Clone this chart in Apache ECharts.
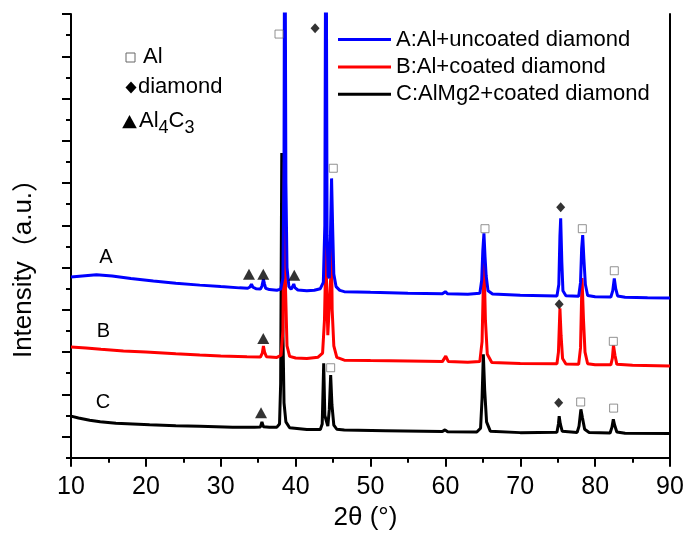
<!DOCTYPE html>
<html>
<head>
<meta charset="utf-8">
<script src="https://cdn.jsdelivr.net/npm/echarts@6/dist/echarts.min.js"></script>
<style>
  html, body { margin: 0; padding: 0; background: #ffffff; }
  #chart { width: 688px; height: 538px; }
</style>
</head>
<body>
<div id="chart"></div>
<script>
// XRD patterns (2θ in degrees, stacked intensity in a.u.)
const seriesNames = ['A:Al+uncoated diamond', 'B:Al+coated diamond', 'C:AlMg2+coated diamond'];
const seriesColors = ['#0000ff', '#ff0000', '#000000'];
const curveLabels = ['A', 'B', 'C'];

const patternA = [
  [10, 8.55], [11.5, 8.60], [13.4, 8.66], [15.5, 8.60], [18, 8.48], [21, 8.36], [24, 8.26], [27.2, 8.17],
  [30, 8.10], [32.5, 8.04], [33.6, 8.02], [33.9, 8.08], [34.1, 8.21], [34.3, 8.07], [34.7, 8.00],
  [35.3, 7.99], [35.5, 8.12], [35.7, 8.44], [35.85, 8.22], [36, 8.02], [36.5, 7.96], [37.5, 7.93],
  [38, 7.98], [38.3, 8.5], [38.45, 14], [38.55, 30], [38.7, 13], [38.85, 9.0], [39.1, 8.1], [39.4, 7.98],
  [39.6, 8.10], [39.75, 8.22], [39.9, 8.05], [40.3, 7.94], [41.5, 7.90], [42.5, 7.93], [43.3, 8.0],
  [43.7, 8.3], [43.9, 11], [44.05, 30], [44.2, 10.5], [44.35, 8.6], [44.5, 8.5], [44.65, 10.5], [44.8, 13.22],
  [44.95, 10.8], [45.1, 8.7], [45.4, 8.1], [45.9, 7.92], [46.5, 7.86], [50, 7.83], [55, 7.79],
  [59.6, 7.76], [60, 7.86], [60.3, 7.76], [63, 7.74], [64.6, 7.78], [64.85, 8.4], [65, 9.8],
  [65.15, 10.62], [65.3, 9.5], [65.45, 8.6], [65.7, 7.9], [66.3, 7.75], [70, 7.69], [74.9, 7.66],
  [75.15, 8.2], [75.3, 10.5], [75.4, 11.33], [75.55, 9.3], [75.7, 7.9], [76.1, 7.67], [77.8, 7.64],
  [78.05, 8.3], [78.2, 9.9], [78.34, 10.54], [78.5, 9.4], [78.7, 8.2], [79, 7.68], [80, 7.62],
  [82.1, 7.61], [82.35, 7.9], [82.56, 8.49], [82.75, 8.0], [83, 7.66], [84, 7.60], [87, 7.57], [90, 7.56]
];

const patternB = [
  [10, 5.24], [12, 5.20], [14, 5.13], [17, 5.05], [20, 5.00], [24, 4.92], [27.2, 4.86], [30, 4.82],
  [33.5, 4.78], [35.3, 4.77], [35.55, 4.95], [35.7, 5.29], [35.85, 5.0], [36.1, 4.78], [37.5, 4.75],
  [38.05, 4.85], [38.3, 6], [38.5, 14], [38.65, 8], [38.85, 5.3], [39.2, 4.8], [40, 4.72], [41.5, 4.70],
  [43, 4.76], [43.6, 4.95], [43.85, 6.5], [44.0, 9], [44.05, 10.5], [44.12, 8.5], [44.3, 5.8],
  [44.5, 5.8], [44.68, 8.5], [44.78, 10.5], [44.88, 7], [45.1, 5.3], [45.5, 4.75], [46.5, 4.62],
  [50, 4.60], [55, 4.58], [59.6, 4.55],
  [60.05, 4.81], [60.4, 4.55], [63, 4.52], [64.6, 4.55], [64.9, 5.5], [65.15, 9.5], [65.35, 6.5],
  [65.6, 4.9], [66.2, 4.51], [70, 4.46], [74.9, 4.45], [75.1, 5.0], [75.3, 7.07], [75.45, 5.8],
  [75.65, 4.7], [76.1, 4.44], [77.8, 4.42], [78.05, 5.2], [78.25, 8.5], [78.45, 6.5], [78.65, 5.0],
  [79, 4.45], [80, 4.40], [82.1, 4.40], [82.3, 4.7], [82.45, 5.33], [82.65, 4.85], [82.9, 4.42],
  [85, 4.38], [90, 4.34]
];

const patternC = [
  [10, 1.97], [11, 1.88], [12.5, 1.78], [13.9, 1.70], [16, 1.63], [20.5, 1.56], [24, 1.52], [27.2, 1.49],
  [31.6, 1.44], [34.5, 1.44], [35.3, 1.46], [35.5, 1.70], [35.7, 1.47], [36.5, 1.44], [37.5, 1.45],
  [37.85, 1.6], [38.0, 3.5], [38.15, 14.42], [38.3, 6], [38.45, 2.6], [38.7, 1.7], [39.2, 1.42],
  [41.5, 1.34], [43.3, 1.34], [43.55, 1.6], [43.75, 4.47], [43.9, 2.0], [44.3, 1.5], [44.5, 2.3],
  [44.68, 3.91], [44.85, 2.5], [45.1, 1.55], [45.5, 1.35], [46.5, 1.31], [52, 1.28], [59.6, 1.24],
  [59.95, 1.32], [60.3, 1.23], [64.2, 1.22], [64.7, 1.4], [64.9, 2.8], [65.07, 4.9], [65.25, 3.2],
  [65.5, 1.7], [66, 1.26], [70, 1.19], [74.9, 1.21], [75.1, 1.6], [75.2, 1.97], [75.35, 1.6],
  [75.6, 1.26], [77.6, 1.20], [77.85, 1.5], [78.1, 2.29], [78.3, 1.9], [78.6, 1.35], [79.2, 1.20],
  [82, 1.17], [82.25, 1.45], [82.43, 1.82], [82.6, 1.55], [82.9, 1.22], [84, 1.16], [90, 1.15]
];

// Phase markers placed above the indexed reflections
const alPeaks = [
  [37.78, 20.05], [45.03, 13.7], [65.29, 10.84], [78.29, 10.84], [82.56, 8.85],
  [82.43, 5.51], [44.68, 4.26], [78.07, 2.64], [82.47, 2.35]
];
const diamondPeaks = [[42.6, 20.32], [75.4, 11.85], [75.2, 7.27], [75.13, 2.6]];
const carbidePeaks = [[33.77, 8.69], [35.68, 8.69], [39.82, 8.64], [35.68, 5.65], [35.38, 2.13]];

// Axis settings
const xTicks = [10, 20, 30, 40, 50, 60, 70, 80, 90];
const yMajorTicks = [1, 3, 5, 7, 9, 11, 13, 15, 17, 19, 21];
const yMinorTicks = [0, 2, 4, 6, 8, 10, 12, 14, 16, 18, 20];

const FONT = '"Liberation Sans", Arial, "Noto Sans CJK SC", sans-serif';
const CJK_FONT = '"Noto Sans CJK JP", "Noto Sans CJK SC", sans-serif';
const AXIS_LINE = { show: true, lineStyle: { color: '#000', width: 2 } };

const chart = echarts.init(document.getElementById('chart'), null, { renderer: 'canvas' });

const patterns = [patternA, patternB, patternC];
const lineSeries = patterns.map((p, i) => ({
  name: seriesNames[i],
  type: 'line',
  data: p,
  showSymbol: false,
  symbol: 'none',
  color: seriesColors[i],
  lineStyle: { width: 3, color: seriesColors[i] },
  z: 4 - i,
  clip: true,
  silent: true
}));

const markerSeries = [
  {
    name: 'Al', type: 'scatter', data: alPeaks, symbol: 'rect', symbolSize: 8,
    itemStyle: { color: '#fff', borderColor: '#777', borderWidth: 1 }, z: 6, silent: true
  },
  {
    name: 'diamond', type: 'scatter', data: diamondPeaks, symbol: 'diamond', symbolSize: [9, 10],
    itemStyle: { color: '#000' }, z: 6, silent: true
  },
  {
    name: 'Al4C3', type: 'scatter', data: carbidePeaks, symbol: 'triangle', symbolSize: [12, 11],
    itemStyle: { color: '#000' }, z: 6, silent: true
  }
];

const option = {
  animation: false,
  backgroundColor: '#fff',
  grid: { left: 71, right: 18, top: 14, bottom: 76, containLabel: false },
  legend: {
    data: seriesNames,
    orient: 'vertical',
    left: 338,
    top: 28.5,
    padding: 0,
    itemWidth: 53,
    itemHeight: 3,
    itemGap: 5.4,
    icon: 'rect',
    selectedMode: false,
    textStyle: { fontSize: 22, fontFamily: FONT, color: '#000', lineHeight: 22 }
  },
  xAxis: [
    {
      type: 'value', min: xTicks[0], max: xTicks[xTicks.length - 1], interval: 10,
      position: 'bottom',
      axisLine: AXIS_LINE,
      axisTick: { show: true, inside: false, length: 9, lineStyle: { color: '#000', width: 2 } },
      minorTick: { show: true, splitNumber: 2, length: 5, lineStyle: { color: '#000', width: 2 } },
      splitLine: { show: false },
      axisLabel: { fontSize: 25, fontFamily: FONT, color: '#000', margin: 13 },
      name: '2θ (°)', nameLocation: 'middle', nameGap: 43,
      nameTextStyle: { fontSize: 26, fontFamily: FONT, color: '#000', padding: [0, 10, 0, 0] }
    },
    {
      type: 'value', min: xTicks[0], max: xTicks[xTicks.length - 1], position: 'top',
      axisLine: AXIS_LINE, axisTick: { show: false }, axisLabel: { show: false }, splitLine: { show: false }
    }
  ],
  yAxis: [
    {
      type: 'value', min: -0.2, max: 21, position: 'left',
      axisLine: AXIS_LINE,
      axisTick: { show: true, inside: false, length: 9, customValues: yMajorTicks, lineStyle: { color: '#000', width: 2 } },
      axisLabel: { show: false },
      splitLine: { show: false }
    },
    {
      type: 'value', min: -0.2, max: 21, position: 'left', offset: 0,
      axisLine: { show: false },
      axisTick: { show: true, inside: false, length: 5, customValues: yMinorTicks, lineStyle: { color: '#000', width: 2 } },
      axisLabel: { show: false },
      splitLine: { show: false }
    },
    {
      type: 'value', min: -0.2, max: 21, position: 'right',
      axisLine: AXIS_LINE, axisTick: { show: false }, axisLabel: { show: false }, splitLine: { show: false }
    }
  ],
  series: lineSeries.concat(markerSeries),
  graphic: [
    // y axis title
    {
      type: 'text', x: 24, y: 262, rotation: Math.PI / 2,
      style: {
        text: '{l|Intensity}{c|（}{l|a.u.}{c|）}', textAlign: 'center', textVerticalAlign: 'middle',
        rich: {
          l: { fontSize: 26, fontFamily: FONT, fill: '#000' },
          c: { fontSize: 26, fontFamily: CJK_FONT, fill: '#000' }
        }
      }
    },
    // curve letters
    { type: 'text', x: 106, y: 257, style: { text: curveLabels[0], font: '20px ' + FONT, fill: '#000', textAlign: 'center', textVerticalAlign: 'middle' } },
    { type: 'text', x: 103.5, y: 331, style: { text: curveLabels[1], font: '20px ' + FONT, fill: '#000', textAlign: 'center', textVerticalAlign: 'middle' } },
    { type: 'text', x: 103, y: 402.5, style: { text: curveLabels[2], font: '20px ' + FONT, fill: '#000', textAlign: 'center', textVerticalAlign: 'middle' } },
    // phase key
    { type: 'rect', shape: { x: 126, y: 53, width: 9, height: 9 }, style: { fill: '#fff', stroke: '#666', lineWidth: 1 } },
    { type: 'text', x: 143, y: 57, style: { text: 'Al', font: '22px ' + FONT, fill: '#000', textAlign: 'left', textVerticalAlign: 'middle' } },
    { type: 'polygon', shape: { points: [[131, 81.5], [136.5, 87.5], [131, 93.5], [125.5, 87.5]] }, style: { fill: '#000' } },
    { type: 'text', x: 138, y: 87, style: { text: 'diamond', font: '22px ' + FONT, fill: '#000', textAlign: 'left', textVerticalAlign: 'middle' } },
    { type: 'polygon', shape: { points: [[129.5, 115], [136.8, 128.3], [122.2, 128.3]] }, style: { fill: '#000' } },
    {
      type: 'text', x: 139, y: 121,
      style: {
        text: '{m|Al}{s|4}{m|C}{s|3}', textAlign: 'left', textVerticalAlign: 'middle',
        rich: {
          m: { fontSize: 22, fontFamily: FONT, fill: '#000' },
          s: { fontSize: 18, fontFamily: FONT, fill: '#000', padding: [15, 0, 0, 0] }
        }
      }
    }
  ]
};

chart.setOption(option);
</script>
</body>
</html>
